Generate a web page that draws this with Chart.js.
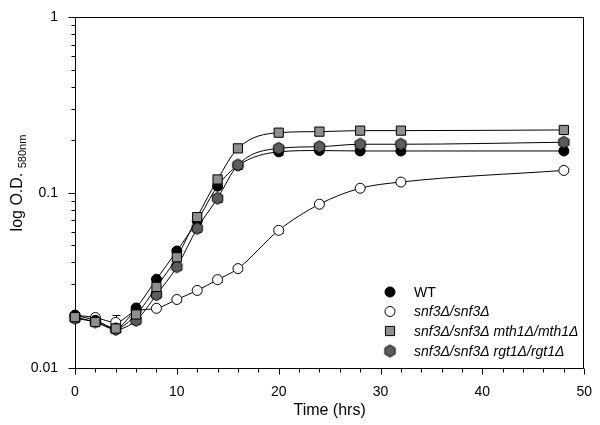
<!DOCTYPE html>
<html><head><meta charset="utf-8">
<script src="https://cdn.jsdelivr.net/npm/chart.js@4/dist/chart.umd.min.js"></script>
<style>html,body{margin:0;padding:0;background:#fff;}</style>
</head><body>
<canvas id="c" width="600" height="425"></canvas>
<script>
// ---- data ----
const timeHrs = [0, 2, 4, 6, 8, 10, 12, 14, 16, 20, 24, 28, 32, 48];
const wtOD     = [0.0200, 0.0187, 0.0169, 0.0220, 0.0321, 0.0465, 0.0690, 0.109, 0.143, 0.171, 0.174, 0.173, 0.173, 0.173];
const snf3OD   = [0.0200, 0.0194, 0.0182, 0.0212, 0.0219, 0.0246, 0.0277, 0.0319, 0.0369, 0.0610, 0.0860, 0.106, 0.115, 0.134];
const mth1OD   = [0.0195, 0.0183, 0.0168, 0.0202, 0.0290, 0.0428, 0.0726, 0.119, 0.179, 0.220, 0.223, 0.226, 0.226, 0.228];
const rgt1OD   = [0.0192, 0.0183, 0.0166, 0.0187, 0.0262, 0.0378, 0.0626, 0.093, 0.144, 0.179, 0.183, 0.189, 0.189, 0.194];
// error bars (standard deviation, estimated)
const wtErr    = [0.0010, 0.0006, 0.0006, 0.0006, 0.0010, 0.0015, 0.0030, 0.004, 0.006, 0.006, 0.005, 0.005, 0.005, 0.005];
const snf3Err  = [0.0008, 0.0006, 0.0018, 0.0006, 0.0006, 0.0008, 0.0008, 0.0008, 0.0010, 0.0020, 0.0020, 0.002, 0.002, 0.003];
const mth1Err  = [0.0008, 0.0008, 0.0006, 0.0008, 0.0010, 0.0015, 0.0030, 0.004, 0.004, 0.004, 0.004, 0.004, 0.004, 0.004];
const rgt1Err  = [0.0008, 0.0008, 0.0006, 0.0008, 0.0010, 0.0015, 0.0030, 0.004, 0.006, 0.005, 0.004, 0.004, 0.004, 0.005];
const seriesNames = ['WT', 'snf3Δ/snf3Δ', 'snf3Δ/snf3Δ mth1Δ/mth1Δ', 'snf3Δ/snf3Δ rgt1Δ/rgt1Δ'];
const yTickLabels = [1, 0.1, 0.01];
const xTickLabels = [0, 10, 20, 30, 40, 50];

const FONT = "'Liberation Sans', Arial, Helvetica, sans-serif";

function makeHex(r, fill) {
  const s = Math.ceil(2 * r + 3);
  const c = document.createElement('canvas');
  c.width = s; c.height = s;
  const g = c.getContext('2d');
  const cx = s / 2, cy = s / 2;
  g.beginPath();
  for (let i = 0; i < 6; i++) {
    const a = -Math.PI / 2 + i * Math.PI / 3;
    const px = cx + r * Math.cos(a), py = cy + r * Math.sin(a);
    if (i === 0) g.moveTo(px, py); else g.lineTo(px, py);
  }
  g.closePath();
  g.fillStyle = fill; g.fill();
  g.lineWidth = 1; g.strokeStyle = '#000'; g.stroke();
  return c;
}
const hexImg = makeHex(6, '#5c5c5c');

const styles = [
  {pointStyle: 'circle', radius: 5, bg: '#000000', order: 2},
  {pointStyle: 'circle', radius: 5, bg: '#ffffff', order: 3},
  {pointStyle: 'rect', radius: 6.5, bg: '#8f8f8f', order: 0},
  {pointStyle: hexImg, radius: 6, bg: '#5c5c5c', order: 1}
];
const seriesData = [wtOD, snf3OD, mth1OD, rgt1OD];
const seriesErr = [wtErr, snf3Err, mth1Err, rgt1Err];

const datasets = seriesData.map((vals, i) => ({
  label: seriesNames[i],
  data: timeHrs.map((t, j) => ({x: t, y: vals[j]})),
  borderColor: '#000',
  borderWidth: 1,
  backgroundColor: styles[i].bg,
  pointStyle: styles[i].pointStyle,
  pointRadius: styles[i].radius,
  pointBackgroundColor: styles[i].bg,
  pointBorderColor: '#000',
  pointBorderWidth: 1,
  cubicInterpolationMode: 'monotone',
  clip: false,
  order: styles[i].order
}));

const axesPlugin = {
  id: 'axesPlugin',
  beforeDatasetsDraw(chart) {
    const ctx = chart.ctx;
    const {left, right, top, bottom} = chart.chartArea;
    const xs = chart.scales.x, ys = chart.scales.y;
    ctx.save();
    ctx.strokeStyle = '#000';
    ctx.lineWidth = 1;
    const L = Math.round(left) + 0.5, R = Math.round(right) - 0.5;
    const T = Math.round(top) + 0.5, B = Math.round(bottom) + 0.5;
    ctx.beginPath();
    ctx.moveTo(L, T); ctx.lineTo(R, T); ctx.lineTo(R, B); ctx.lineTo(L, B); ctx.closePath();
    ctx.stroke();
    // x ticks
    ctx.beginPath();
    for (let t = 0; t <= 50; t += 2) {
      const px = Math.round(xs.getPixelForValue(t)) + 0.5;
      const len = (t % 10 === 0) ? 6 : 4;
      ctx.moveTo(px, B); ctx.lineTo(px, B + len);
    }
    // y ticks
    [0.01, 0.1].forEach(d => {
      for (let k = 1; k <= 9; k++) {
        const v = k * d;
        const py = Math.round(ys.getPixelForValue(v)) + 0.5;
        const len = (k === 1) ? 7 : 4;
        ctx.moveTo(L, py); ctx.lineTo(L - len, py);
      }
    });
    const p1 = Math.round(ys.getPixelForValue(1)) + 0.5;
    ctx.moveTo(L, p1); ctx.lineTo(L - 7, p1);
    ctx.stroke();
    // error bars
    ctx.beginPath();
    seriesData.forEach((vals, i) => {
      vals.forEach((v, j) => {
        const e = seriesErr[i][j];
        const px = Math.round(xs.getPixelForValue(timeHrs[j])) + 0.5;
        const y1 = ys.getPixelForValue(v + e), y2 = ys.getPixelForValue(Math.max(v - e, 0.0101));
        ctx.moveTo(px, y1); ctx.lineTo(px, y2);
        ctx.moveTo(px - 4, Math.round(y1) + 0.5); ctx.lineTo(px + 4, Math.round(y1) + 0.5);
        ctx.moveTo(px - 4, Math.round(y2) + 0.5); ctx.lineTo(px + 4, Math.round(y2) + 0.5);
      });
    });
    ctx.stroke();
    ctx.restore();
  },
  afterDraw(chart) {
    const ctx = chart.ctx;
    ctx.save();
    // y axis title with subscript
    ctx.translate(17, 183);
    ctx.rotate(-Math.PI / 2);
    ctx.fillStyle = '#000';
    ctx.textBaseline = 'alphabetic';
    ctx.font = '16px ' + FONT;
    const main = 'log O.D. ';
    const wMain = ctx.measureText(main).width;
    ctx.font = '11px ' + FONT;
    const sub = '580nm';
    const wSub = ctx.measureText(sub).width;
    const start = -(wMain + wSub) / 2;
    ctx.font = '16px ' + FONT;
    ctx.fillText(main, start, 5);
    ctx.font = '11px ' + FONT;
    ctx.fillText(sub, start + wMain, 9);
    ctx.restore();

    // legend
    ctx.save();
    const rows = [292, 311.5, 331, 351];
    const mx = 390, tx = 414;
    rows.forEach((ry, i) => {
      const st = styles[i];
      ctx.fillStyle = st.bg; ctx.strokeStyle = '#000'; ctx.lineWidth = 1;
      if (st.pointStyle === 'circle') {
        ctx.beginPath(); ctx.arc(mx, ry, st.radius, 0, Math.PI * 2); ctx.fill(); ctx.stroke();
      } else if (st.pointStyle === 'rect') {
        const h = st.radius * Math.SQRT1_2;
        ctx.beginPath(); ctx.rect(mx - h, ry - h, 2 * h, 2 * h); ctx.fill(); ctx.stroke();
      } else {
        ctx.drawImage(st.pointStyle, mx - st.pointStyle.width / 2, ry - st.pointStyle.height / 2);
      }
      ctx.fillStyle = '#000';
      ctx.textBaseline = 'middle';
      ctx.font = (i === 0 ? '' : 'italic ') + '14px ' + FONT;
      ctx.fillText(seriesNames[i], tx, ry + 1);
    });
    ctx.restore();
  }
};

new Chart(document.getElementById('c'), {
  type: 'line',
  data: {datasets},
  options: {
    responsive: false,
    animation: false,
    layout: {padding: {left: 0, right: 10, top: 7, bottom: 0}},
    plugins: {legend: {display: false}, tooltip: {enabled: false}},
    scales: {
      x: {
        type: 'linear', min: 0, max: 50,
        grid: {display: false}, border: {display: false},
        afterBuildTicks(s) { s.ticks = xTickLabels.map(v => ({value: v})); },
        ticks: {padding: 8, color: '#000', font: {family: FONT, size: 14}},
        title: {display: true, text: 'Time (hrs)', color: '#000', font: {family: FONT, size: 16}, padding: {top: 0, bottom: 5}},
        afterFit(s) { s.height = 57; }
      },
      y: {
        type: 'logarithmic', min: 0.01, max: 1,
        grid: {display: false}, border: {display: false},
        afterBuildTicks(s) { s.ticks = yTickLabels.map(v => ({value: v})); },
        ticks: {
          autoSkip: false, padding: 9, color: '#000', font: {family: FONT, size: 14},
          callback: (v) => String(v)
        },
        afterFit(s) { s.width = 75; }
      }
    }
  },
  plugins: [axesPlugin]
});
</script>
</body></html>
